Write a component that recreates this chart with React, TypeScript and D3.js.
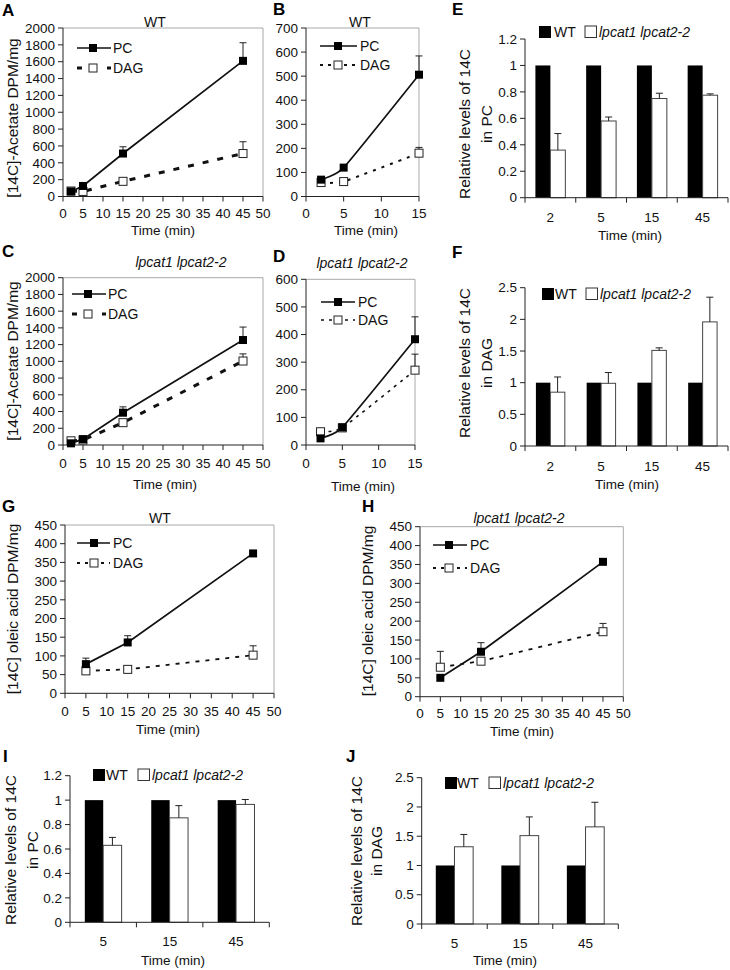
import React from 'react';
import * as d3 from 'd3';

const FONT = "Arial, 'Liberation Sans', Helvetica, sans-serif";
const MUT = 'lpcat1 lpcat2-2';

// ---------- Line panels data ----------
// A: WT, [14C]-acetate, 0-45 min
const timeA = [2, 5, 15, 45];
const pcA = [60, 125, 510, 1610];
const pcErrA = [8, 12, 80, 215];
const dagA = [65, 60, 180, 510];
const dagErrA = [5, 6, 12, 140];
// B: WT, early time points
const timeB = [2, 5, 15];
const pcB = [70, 120, 506];
const pcErrB = [5, 8, 78];
const dagB = [58, 62, 180];
const dagErrB = [4, 5, 24];
// C: mutant, acetate
const timeC = [2, 5, 15, 45];
const pcC = [20, 70, 386, 1255];
const pcErrC = [5, 8, 70, 155];
const dagC = [50, 60, 267, 1004];
const dagErrC = [4, 5, 15, 85];
// D: mutant, early time points
const timeD = [2, 5, 15];
const pcD = [24, 64, 383];
const pcErrD = [3, 5, 81];
const dagD = [48, 62, 271];
const dagErrD = [3, 4, 58];
// G: WT, oleic acid
const timeG = [5, 15, 45];
const pcG = [78, 136, 374];
const pcErrG = [16, 18, 4];
const dagG = [60, 64, 102];
const dagErrG = [3, 3, 25];
// H: mutant, oleic acid
const timeH = [5, 15, 45];
const pcH = [50, 119, 357];
const pcErrH = [3, 24, 4];
const dagH = [78, 94, 172];
const dagErrH = [42, 4, 22];

// ---------- Bar panels data ----------
const catsEF = ['2', '5', '15', '45'];
const wtE = [1, 1, 1, 1];
const mutE = [0.36, 0.58, 0.75, 0.775];
const mutErrE = [0.125, 0.03, 0.04, 0.01];
const wtF = [1, 1, 1, 1];
const mutF = [0.85, 0.99, 1.51, 1.96];
const mutErrF = [0.24, 0.17, 0.04, 0.39];
const catsIJ = ['5', '15', '45'];
const wtI = [1, 1, 1];
const mutI = [0.63, 0.855, 0.965];
const mutErrI = [0.065, 0.1, 0.04];
const wtJ = [1, 1, 1];
const mutJ = [1.32, 1.51, 1.66];
const mutErrJ = [0.21, 0.32, 0.42];

const TICK_FS = 13.5;
const AXIS_C = '#222';
const FRAME_C = '#a8a8a8';
const TXT_C = '#111';

function Letter({ x, y, t }: any) {
  return (
    <text x={x} y={y} fontSize={17} fontWeight="bold" fontFamily={FONT}>{t}</text>
  );
}

function LinePanel(p: any) {
  const x = d3.scaleLinear().domain([0, p.xMax]).range([p.left, p.right]);
  const y = d3.scaleLinear().domain([0, p.yMax]).range([p.bottom, p.top]);
  const xt = d3.range(0, p.xMax + 0.001, p.xStep);
  const yt = d3.range(0, p.yMax + 0.001, p.yStep);
  const curve = p.smooth ? d3.curveCardinal.tension(0.55) : d3.curveLinear;
  const mk = (vals: number[]) =>
    d3.line<number>().x((_, i) => x(p.time[i])).y((d) => y(d)).curve(curve)(vals) || '';
  const ms = 8;
  const errBars = (vals: number[], errs: number[], key: string) =>
    vals.map((v, i) => (
      <g key={key + i} stroke={AXIS_C} strokeWidth={1}>
        <line x1={x(p.time[i])} x2={x(p.time[i])} y1={y(v)} y2={y(v + errs[i])} />
        <line x1={x(p.time[i]) - 3.5} x2={x(p.time[i]) + 3.5} y1={y(v + errs[i])} y2={y(v + errs[i])} />
      </g>
    ));
  return (
    <g fontFamily={FONT} fontWeight="normal" fill={TXT_C}>
      {/* frame */}
      <line x1={p.left} x2={p.right} y1={p.top} y2={p.top} stroke={FRAME_C} strokeWidth={1} />
      <line x1={p.right} x2={p.right} y1={p.top} y2={p.bottom} stroke={FRAME_C} strokeWidth={1} />
      {/* axes */}
      <line x1={p.left} x2={p.left} y1={p.top} y2={p.bottom} stroke={AXIS_C} strokeWidth={1} />
      <line x1={p.left} x2={p.right} y1={p.bottom} y2={p.bottom} stroke={AXIS_C} strokeWidth={1} />
      {yt.map((v) => (
        <g key={'y' + v}>
          <line x1={p.left - 5} x2={p.left} y1={y(v)} y2={y(v)} stroke={AXIS_C} />
          <text x={p.left - 8} y={y(v)} dy="0.35em" textAnchor="end" fontSize={TICK_FS}>{v}</text>
        </g>
      ))}
      {xt.map((v) => (
        <g key={'x' + v}>
          <line x1={x(v)} x2={x(v)} y1={p.bottom} y2={p.bottom + 5} stroke={AXIS_C} />
          <text x={x(v)} y={p.xLabelY} dy="0.35em" textAnchor="middle" fontSize={TICK_FS}>{v}</text>
        </g>
      ))}
      <text x={p.xTitleX} y={p.xTitleY} dy="0.35em" textAnchor="middle" fontSize={13.5}>Time (min)</text>
      <text transform={`translate(${p.yTitleX},${p.yTitleY}) rotate(-90)`} dy="0.35em" textAnchor="middle" fontSize={15.5}>{p.yTitle}</text>
      <text x={p.titleX} y={p.titleY} dy="0.35em" textAnchor="middle" fontSize={14} fontStyle={p.titleItalic ? 'italic' : 'normal'}>{p.title}</text>
      {/* series */}
      <path d={mk(p.dag)} fill="none" stroke="#111" strokeWidth={p.dagWidth} strokeDasharray={p.dagDash} />
      <path d={mk(p.pc)} fill="none" stroke="#111" strokeWidth={1.7} />
      {errBars(p.dag, p.dagErr, 'de')}
      {errBars(p.pc, p.pcErr, 'pe')}
      {p.dag.map((v: number, i: number) => (
        <rect key={'dm' + i} x={x(p.time[i]) - ms / 2} y={y(v) - ms / 2} width={ms} height={ms} fill="#fff" stroke="#222" strokeWidth={1} />
      ))}
      {p.pc.map((v: number, i: number) => (
        <rect key={'pm' + i} x={x(p.time[i]) - ms / 2} y={y(v) - ms / 2} width={ms} height={ms} fill="#000" />
      ))}
      {/* legend */}
      <line x1={p.lx0} x2={p.lx1} y1={p.ly1} y2={p.ly1} stroke="#111" strokeWidth={1.7} />
      <rect x={p.lm - ms / 2} y={p.ly1 - ms / 2} width={ms} height={ms} fill="#000" />
      <text x={p.lt} y={p.ly1} dy="0.35em" fontSize={14}>PC</text>
      <line x1={p.lx0} x2={p.lx1} y1={p.ly2} y2={p.ly2} stroke="#111" strokeWidth={p.dagWidth} strokeDasharray={p.legDash || p.dagDash} />
      <rect x={p.lm - ms / 2} y={p.ly2 - ms / 2} width={ms} height={ms} fill="#fff" stroke="#222" strokeWidth={1} />
      <text x={p.lt} y={p.ly2} dy="0.35em" fontSize={14}>DAG</text>
    </g>
  );
}

function BarPanel(p: any) {
  const x0 = d3.scaleBand<string>().domain(p.cats).range([p.left, p.right]).padding(0);
  const y = d3.scaleLinear().domain([0, p.yMax]).range([p.bottom, p.top]);
  const yt = d3.range(0, p.yMax + 0.0001, p.yStep).map((v) => +v.toFixed(2));
  const bw = x0.bandwidth() * p.barFrac;
  const bounds = [...p.cats.map((c: string) => x0(c) as number), p.right];
  return (
    <g fontFamily={FONT} fontWeight="normal" fill={TXT_C}>
      {p.cats.map((c: string, i: number) => {
        const cx = (x0(c) as number) + x0.bandwidth() / 2;
        const m = p.mut[i];
        const e = p.mutErr[i];
        return (
          <g key={'b' + c}>
            <rect x={cx - bw} y={y(p.wt[i])} width={bw} height={p.bottom - y(p.wt[i])} fill="#000" />
            <rect x={cx} y={y(m)} width={bw} height={p.bottom - y(m)} fill="#fff" stroke="#444" strokeWidth={1} />
            <line x1={cx + bw / 2} x2={cx + bw / 2} y1={y(m)} y2={y(m + e)} stroke={AXIS_C} />
            <line x1={cx + bw / 2 - 3.5} x2={cx + bw / 2 + 3.5} y1={y(m + e)} y2={y(m + e)} stroke={AXIS_C} />
            <text x={cx} y={p.xLabelY} dy="0.35em" textAnchor="middle" fontSize={TICK_FS}>{c}</text>
          </g>
        );
      })}
      <line x1={p.left} x2={p.left} y1={p.top} y2={p.bottom} stroke={AXIS_C} />
      <line x1={p.left} x2={p.right} y1={p.bottom} y2={p.bottom} stroke={AXIS_C} />
      {bounds.map((bx: number, i: number) => (
        <line key={'bt' + i} x1={bx} x2={bx} y1={p.bottom} y2={p.bottom + 5} stroke={AXIS_C} />
      ))}
      {yt.map((v) => (
        <g key={'y' + v}>
          <line x1={p.left - 5} x2={p.left} y1={y(v)} y2={y(v)} stroke={AXIS_C} />
          <text x={p.left - 8} y={y(v)} dy="0.35em" textAnchor="end" fontSize={TICK_FS}>{v}</text>
        </g>
      ))}
      <text x={p.xTitleX} y={p.xTitleY} dy="0.35em" textAnchor="middle" fontSize={13.5}>Time (min)</text>
      <g transform={`translate(${p.yTitleX},${p.yTitleY}) rotate(-90)`}>
        <text textAnchor="middle" dy="0.35em" fontSize={15.5}>Relative levels of 14C</text>
        <text textAnchor="middle" dy="0.35em" y={p.yTitleGap} fontSize={15.5}>{p.yTitle2}</text>
      </g>
      {/* legend */}
      <rect x={p.lg[0]} y={p.lgY - 6} width={12} height={12} fill="#000" />
      <text x={p.lg[1]} y={p.lgY} dy="0.35em" fontSize={14}>WT</text>
      <rect x={p.lg[2]} y={p.lgY - 6} width={11.5} height={11.5} fill="#fff" stroke="#333" strokeWidth={1} />
      <text x={p.lg[3]} y={p.lgY} dy="0.35em" fontSize={14} fontStyle="italic">{MUT}</text>
    </g>
  );
}

export default function App() {
  return (
    <svg width={730} height={970} style={{ position: 'absolute', left: 0, top: 0, background: '#fff' }}>
      <rect x={0} y={0} width={730} height={970} fill="#fff" />
      {/* A */}
      <Letter x={2} y={16} t="A" />
      <LinePanel left={63} right={263} top={28} bottom={196.5} xMax={50} xStep={5} yMax={2000} yStep={200}
        time={timeA} pc={pcA} pcErr={pcErrA} dag={dagA} dagErr={dagErrA}
        dagDash="6,9" dagWidth={3} xLabelY={213} xTitleX={163} xTitleY={230}
        yTitle="[14C]-Acetate DPM/mg" yTitleX={13} yTitleY={118}
        title="WT" titleX={155} titleY={22}
        lx0={77} lx1={111} lm={93} lt={113} ly1={48} ly2={68} legDash="5,10" />
      {/* B */}
      <Letter x={273} y={15} t="B" />
      <LinePanel left={306} right={419} top={28} bottom={196.5} xMax={15} xStep={5} yMax={700} yStep={100}
        time={timeB} pc={pcB} pcErr={pcErrB} dag={dagB} dagErr={dagErrB} smooth
        dagDash="3,6" dagWidth={2} xLabelY={213} xTitleX={366} xTitleY={230}
        yTitle="" yTitleX={0} yTitleY={0}
        title="WT" titleX={360} titleY={22}
        lx0={320} lx1={357} lm={338} lt={360} ly1={46} ly2={65} legDash="3,5" />
      {/* C */}
      <Letter x={2} y={257} t="C" />
      <LinePanel left={63} right={263} top={277.7} bottom={445} xMax={50} xStep={5} yMax={2000} yStep={200}
        time={timeC} pc={pcC} pcErr={pcErrC} dag={dagC} dagErr={dagErrC}
        dagDash="6,9" dagWidth={3} xLabelY={463} xTitleX={165} xTitleY={484}
        yTitle="[14C]-Acetate DPM/mg" yTitleX={13} yTitleY={361}
        title={MUT} titleItalic titleX={181} titleY={262}
        lx0={72} lx1={106} lm={88} lt={108} ly1={294} ly2={314} legDash="5,10" />
      {/* D */}
      <Letter x={273} y={262} t="D" />
      <LinePanel left={306} right={415} top={279.3} bottom={445} xMax={15} xStep={5} yMax={600} yStep={100}
        time={timeD} pc={pcD} pcErr={pcErrD} dag={dagD} dagErr={dagErrD} smooth
        dagDash="3,5" dagWidth={1.6} xLabelY={463} xTitleX={363} xTitleY={486}
        yTitle="" yTitleX={0} yTitleY={0}
        title={MUT} titleItalic titleX={362} titleY={263}
        lx0={321} lx1={355} lm={338} lt={358} ly1={302} ly2={320} legDash="3,5" />
      {/* E */}
      <Letter x={452} y={15} t="E" />
      <BarPanel left={525} right={728} top={39} bottom={197.7} yMax={1.2} yStep={0.2}
        cats={catsEF} wt={wtE} mut={mutE} mutErr={mutErrE} barFrac={0.295}
        xLabelY={217} xTitleX={630} xTitleY={235}
        yTitle2="in PC" yTitleX={465} yTitleY={124} yTitleGap={22}
        lg={[539, 554, 585, 599]} lgY={32} />
      {/* F */}
      <Letter x={452} y={258} t="F" />
      <BarPanel left={525} right={728} top={287.7} bottom={446} yMax={2.5} yStep={0.5}
        cats={catsEF} wt={wtF} mut={mutF} mutErr={mutErrF} barFrac={0.285}
        xLabelY={466} xTitleX={627} xTitleY={484}
        yTitle2="in DAG" yTitleX={465} yTitleY={363} yTitleGap={22}
        lg={[542, 555, 586, 600]} lgY={294} />
      {/* G */}
      <Letter x={2} y={512} t="G" />
      <LinePanel left={65} right={274} top={525} bottom={693.3} xMax={50} xStep={5} yMax={450} yStep={50}
        time={timeG} pc={pcG} pcErr={pcErrG} dag={dagG} dagErr={dagErrG}
        dagDash="4,6" dagWidth={1.8} xLabelY={711} xTitleX={168} xTitleY={729}
        yTitle="[14C] oleic acid DPM/mg" yTitleX={13} yTitleY={609}
        title="WT" titleX={160} titleY={518}
        lx0={77} lx1={110} lm={94} lt={113} ly1={543} ly2={563} legDash="3,5" />
      {/* H */}
      <Letter x={362} y={512} t="H" />
      <LinePanel left={420} right={623.3} top={526.7} bottom={696.7} xMax={50} xStep={5} yMax={450} yStep={50}
        time={timeH} pc={pcH} pcErr={pcErrH} dag={dagH} dagErr={dagErrH}
        dagDash="4,6" dagWidth={1.8} xLabelY={713} xTitleX={522} xTitleY={731}
        yTitle="[14C] oleic acid DPM/mg" yTitleX={368} yTitleY={611}
        title={MUT} titleItalic titleX={519} titleY={518}
        lx0={433} lx1={467} lm={449} lt={470} ly1={545} ly2={568} legDash="3,5" />
      {/* I */}
      <Letter x={3} y={762} t="I" />
      <BarPanel left={70} right={269.3} top={775.7} bottom={922.3} yMax={1.2} yStep={0.2}
        cats={catsIJ} wt={wtI} mut={mutI} mutErr={mutErrI} barFrac={0.277}
        xLabelY={941.7} xTitleX={173} xTitleY={960}
        yTitle2="in PC" yTitleX={11} yTitleY={850} yTitleGap={22}
        lg={[93, 106, 138, 152]} lgY={775} />
      {/* J */}
      <Letter x={346} y={762} t="J" />
      <BarPanel left={421.7} right={618.3} top={777.7} bottom={924} yMax={2.5} yStep={0.5}
        cats={catsIJ} wt={wtJ} mut={mutJ} mutErr={mutErrJ} barFrac={0.285}
        xLabelY={943} xTitleX={505} xTitleY={960}
        yTitle2="in DAG" yTitleX={357} yTitleY={851} yTitleGap={20}
        lg={[445, 457, 489, 503]} lgY={783} />
    </svg>
  );
}
